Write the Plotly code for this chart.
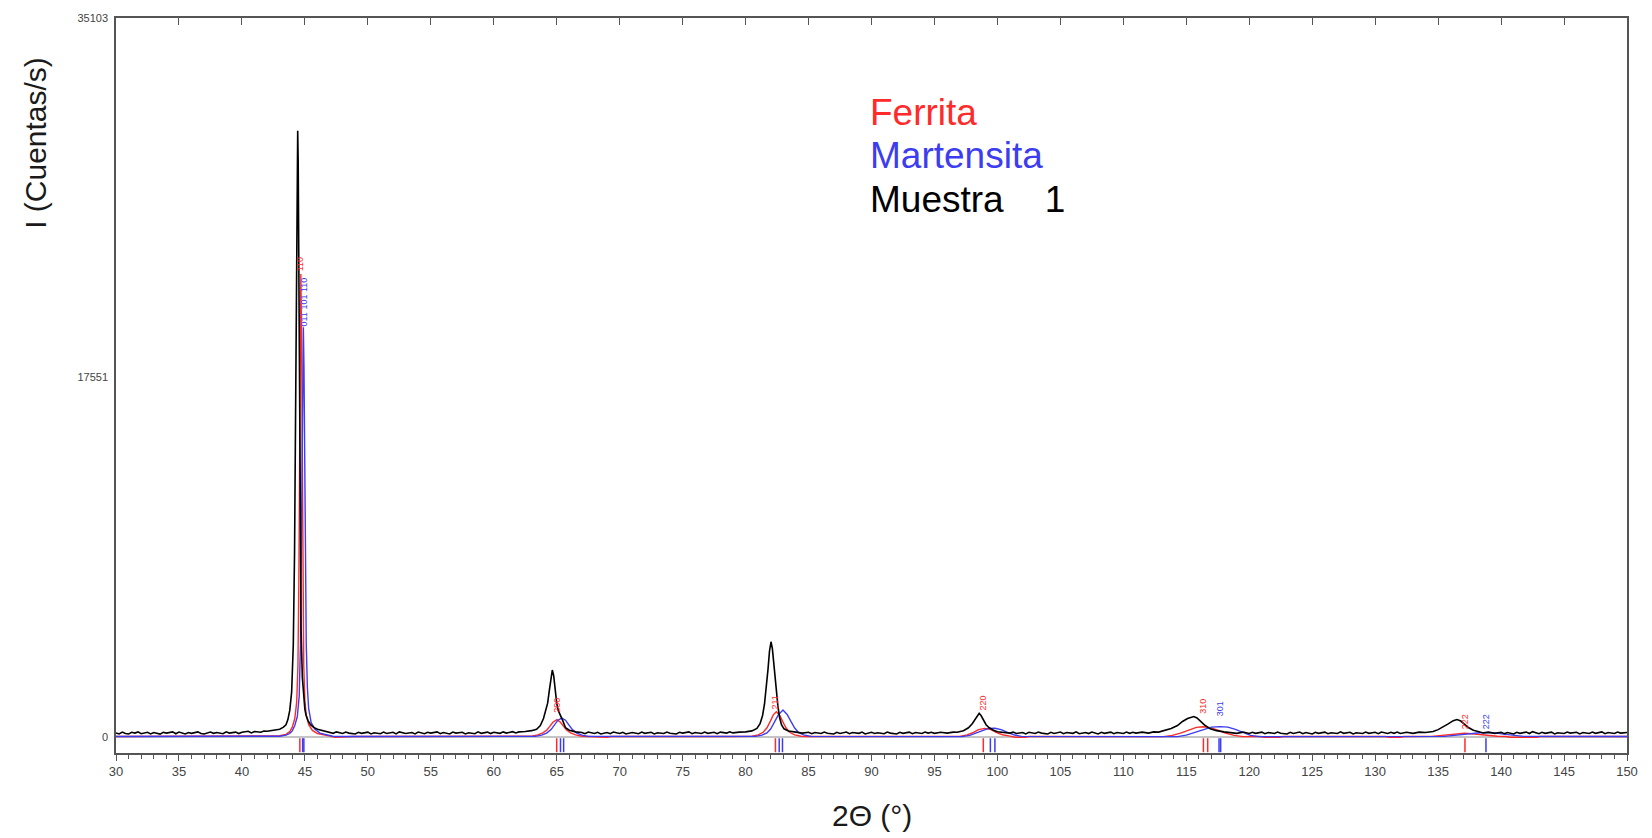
import plotly.graph_objects as go

# ---------------- DATA (2theta in degrees, intensity in counts/s) ----------------
muestra_fondo_1 = [(30.0, 200), (30.25, 150), (30.5, 240), (30.75, 170), (31.0, 150), (31.25, 230), (31.5, 190),
                   (31.75, 250), (32.0, 160), (32.5, 230), (32.75, 150), (33.0, 220), (33.5, 140), (33.75, 230),
                   (34.0, 190), (34.5, 250), (34.75, 160), (35.0, 240), (35.5, 150), (35.75, 220), (36.0, 180),
                   (36.5, 250), (36.75, 170), (37.0, 150), (37.5, 240), (37.75, 180), (38.0, 220), (38.5, 160),
                   (38.75, 250), (39.0, 190), (39.5, 240), (39.75, 170), (40.0, 230), (40.5, 280), (40.75, 200),
                   (41.0, 270), (41.5, 230), (41.75, 290)]
muestra_pico_110 = [(42.0, 280), (42.5, 330), (43.0, 380), (43.3, 480), (43.5, 600), (43.65, 850), (43.8, 1300),
                    (43.95, 2200), (44.08, 4500), (44.18, 9000), (44.26, 16000), (44.33, 24000), (44.39, 28800),
                    (44.43, 29600), (44.47, 28000), (44.52, 22000), (44.57, 15000), (44.63, 9000), (44.7, 5200),
                    (44.8, 2900), (44.9, 1900), (45.0, 1350), (45.1, 1050), (45.25, 800), (45.45, 600),
                    (45.7, 470), (46.0, 380), (46.5, 300), (47.0, 240)]
muestra_fondo_2 = [(47.25, 180), (47.5, 250), (48.0, 170), (48.25, 240), (48.5, 190), (49.0, 150), (49.25, 230),
                   (49.5, 180), (50.0, 240), (50.25, 150), (50.5, 210), (51.0, 160), (51.25, 240), (51.5, 170),
                   (52.0, 230), (52.25, 150), (52.5, 250), (53.0, 170), (53.5, 220), (53.75, 150), (54.0, 240),
                   (54.5, 160), (54.75, 230), (55.0, 190), (55.5, 250), (55.75, 160), (56.0, 220), (56.5, 150),
                   (56.75, 240), (57.0, 190), (57.5, 230), (57.75, 150), (58.0, 210), (58.5, 160), (58.75, 250),
                   (59.0, 180), (59.5, 240), (59.75, 170), (60.0, 230), (60.5, 180), (60.75, 250), (61.0, 190),
                   (61.5, 260), (61.75, 200)]
muestra_pico_200 = [(62.0, 250), (62.5, 270), (63.0, 310), (63.4, 380), (63.7, 560), (63.95, 900), (64.12, 1250),
                    (64.28, 1650), (64.42, 2300), (64.55, 2950), (64.65, 3270), (64.76, 3000), (64.88, 2300),
                    (65.0, 1650), (65.12, 1300), (65.3, 1000), (65.48, 800), (65.7, 450), (66.0, 330),
                    (66.5, 250), (67.0, 220)]
muestra_fondo_3 = [(67.25, 160), (67.5, 240), (68.0, 170), (68.25, 230), (68.5, 150), (69.0, 220), (69.25, 160),
                   (69.5, 240), (70.0, 170), (70.25, 230), (70.5, 150), (71.0, 220), (71.5, 160), (71.75, 240),
                   (72.0, 180), (72.5, 230), (72.75, 150), (73.0, 210), (73.5, 170), (73.75, 240), (74.0, 180),
                   (74.5, 150), (74.75, 230), (75.0, 190), (75.5, 250), (75.75, 160), (76.0, 220), (76.5, 170),
                   (76.75, 240), (77.0, 180), (77.5, 230), (77.75, 160), (78.0, 240), (78.5, 190), (78.75, 250)]
muestra_pico_211 = [(79.0, 200), (79.5, 240), (80.0, 250), (80.5, 300), (80.9, 420), (81.15, 650), (81.35, 1050),
                    (81.5, 1600), (81.64, 2330), (81.78, 3300), (81.9, 4200), (82.02, 4650), (82.13, 4300),
                    (82.25, 3500), (82.35, 2900), (82.44, 2330), (82.57, 1500), (82.7, 950), (82.85, 600),
                    (83.05, 400), (83.4, 290), (84.0, 240), (84.5, 190), (85.0, 230)]
muestra_fondo_4 = [(85.25, 160), (85.5, 220), (86.0, 170), (86.25, 240), (86.5, 180), (87.0, 150), (87.25, 230),
                   (87.5, 170), (88.0, 240), (88.25, 160), (88.5, 220), (89.0, 180), (89.25, 240), (89.5, 150),
                   (90.0, 230), (90.25, 170), (90.5, 210), (91.0, 160), (91.25, 240), (91.5, 190), (92.0, 150),
                   (92.25, 230), (92.5, 180), (93.0, 240), (93.25, 160), (93.5, 220), (94.0, 170), (94.25, 240),
                   (94.5, 190), (94.75, 230)]
muestra_pico_220 = [(95.0, 180), (95.5, 230), (96.0, 190), (96.5, 240), (96.8, 230), (97.3, 310), (97.7, 450),
                    (98.0, 650), (98.25, 900), (98.45, 1120), (98.55, 1160), (98.7, 1050), (98.9, 800),
                    (99.1, 600), (99.35, 450), (99.65, 340), (100.0, 260), (100.5, 230), (101.0, 190)]
muestra_fondo_5 = [(101.25, 240), (101.5, 170), (102.0, 220), (102.25, 150), (102.5, 230), (103.0, 170),
                   (103.25, 240), (103.5, 190), (104.0, 150), (104.25, 230), (104.5, 170), (105.0, 240),
                   (105.25, 160), (105.5, 220), (106.0, 180), (106.25, 250), (106.5, 160), (107.0, 220),
                   (107.25, 170), (107.5, 240), (108.0, 150), (108.25, 230), (108.5, 180), (109.0, 240),
                   (109.25, 160), (109.5, 220), (110.0, 170), (110.25, 240), (110.5, 180), (110.75, 230)]
muestra_pico_310 = [(111.0, 190), (111.5, 240), (112.0, 190), (112.4, 250), (112.8, 240), (113.3, 320),
                    (113.8, 420), (114.3, 560), (114.7, 760), (115.1, 900), (115.4, 970), (115.6, 1000),
                    (115.85, 930), (116.15, 760), (116.5, 560), (116.9, 400), (117.4, 310), (118.0, 250),
                    (118.5, 220), (119.0, 180), (119.5, 240), (120.0, 170)]
muestra_fondo_6 = [(120.25, 230), (120.5, 180), (121.0, 240), (121.25, 160), (121.5, 220), (122.0, 170),
                   (122.25, 240), (122.5, 180), (123.0, 150), (123.25, 230), (123.5, 170), (124.0, 240),
                   (124.25, 160), (124.5, 220), (125.0, 150), (125.25, 230), (125.5, 180), (126.0, 240),
                   (126.25, 160), (126.5, 210), (127.0, 170), (127.25, 250), (127.5, 180), (128.0, 230),
                   (128.25, 150), (128.5, 210), (129.0, 170), (129.25, 240), (129.5, 180), (130.0, 230),
                   (130.25, 160), (130.5, 240), (131.0, 170), (131.25, 230), (131.5, 180), (131.75, 240)]
muestra_pico_222 = [(132.0, 170), (132.5, 230), (133.0, 180), (133.5, 240), (134.0, 220), (134.6, 270),
                    (135.0, 360), (135.4, 480), (135.8, 640), (136.2, 800), (136.5, 850), (136.8, 780),
                    (137.1, 620), (137.4, 460), (137.8, 330), (138.2, 250), (138.6, 200), (139.0, 240),
                    (139.5, 180), (140.0, 230)]
muestra_fondo_7 = [(140.25, 160), (140.5, 220), (141.0, 150), (141.25, 230), (141.5, 180), (142.0, 240),
                   (142.25, 170), (142.5, 260), (143.0, 160), (143.25, 230), (143.5, 180), (144.0, 240),
                   (144.25, 150), (144.5, 210), (145.0, 170), (145.25, 240), (145.5, 190), (146.0, 230),
                   (146.25, 150), (146.5, 220), (147.0, 170), (147.25, 240), (147.5, 180), (148.0, 250),
                   (148.25, 160), (148.5, 220), (149.0, 170), (149.25, 240), (149.5, 190), (150.0, 220)]

# Calculated profile, Ferrita
ferrita_perfil = [(30.0, 25), (38.0, 25), (42.0, 30), (43.0, 60), (43.5, 130), (43.8, 260), (44.0, 480),
                  (44.2, 900), (44.35, 1700), (44.45, 3500), (44.52, 7500), (44.58, 14000), (44.63, 20000),
                  (44.68, 22600), (44.73, 20000), (44.78, 14000), (44.84, 7500), (44.91, 3500), (45.0, 1800),
                  (45.1, 1100), (45.3, 600), (45.6, 320), (46.0, 170), (46.5, 90), (47.0, 40), (47.4, -10),
                  (48.4, -10), (48.8, 25), (63.0, 40), (63.5, 100), (63.9, 200), (64.2, 330), (64.45, 520),
                  (64.7, 720), (65.02, 850), (65.3, 720), (65.55, 520), (65.8, 330), (66.1, 200), (66.5, 100),
                  (67.0, 40), (67.8, 25), (68.1, -10), (69.0, -10), (69.3, 25), (77.4, 25), (77.7, -10),
                  (78.6, -10), (78.9, 25), (80.5, 40), (81.0, 100), (81.4, 230), (81.7, 450), (81.95, 750),
                  (82.2, 1080), (82.44, 1235), (82.7, 1080), (82.95, 750), (83.2, 450), (83.5, 230),
                  (83.9, 100), (84.4, 40), (85.0, 25), (97.0, 30), (97.6, 100), (98.1, 230), (98.5, 360),
                  (99.0, 420), (99.5, 360), (99.9, 230), (100.4, 110), (101.0, 40), (101.4, -10), (102.2, -10),
                  (102.5, 25), (113.2, 20), (113.9, 80), (114.6, 200), (115.2, 350), (115.8, 470),
                  (116.35, 500), (116.9, 460), (117.5, 340), (118.1, 190), (118.8, 80), (119.5, 20),
                  (120.9, 25), (121.2, -10), (122.4, -10), (122.7, 25), (130.8, 25), (131.1, -10), (132.0, -10),
                  (132.3, 25), (134.5, 30), (135.5, 90), (136.3, 150), (137.1, 180), (137.9, 150), (138.7, 90),
                  (139.7, 40), (140.4, 25), (140.7, -10), (142.8, -10), (143.1, 25), (150.0, 25)]

# Calculated profile, Martensita
martensita_perfil = [(30.0, 25), (40.0, 25), (43.0, 40), (43.5, 90), (43.8, 170), (44.0, 300), (44.2, 560),
                     (44.4, 1000), (44.55, 2000), (44.65, 4500), (44.72, 8500), (44.78, 13500), (44.83, 18000),
                     (44.88, 20000), (44.93, 18000), (44.98, 13500), (45.04, 8500), (45.11, 4500), (45.2, 2400),
                     (45.3, 1400), (45.5, 700), (45.8, 380), (46.2, 190), (46.7, 100), (47.2, 40), (48.0, 25),
                     (63.3, 30), (63.8, 90), (64.2, 190), (64.55, 360), (64.85, 600), (65.1, 820), (65.4, 920),
                     (65.7, 820), (65.95, 600), (66.25, 360), (66.6, 190), (67.0, 90), (67.5, 30), (80.8, 30),
                     (81.3, 90), (81.7, 200), (82.0, 400), (82.3, 720), (82.6, 1080), (82.97, 1320),
                     (83.3, 1100), (83.6, 760), (83.9, 440), (84.2, 220), (84.6, 100), (85.2, 30), (97.2, 20),
                     (97.8, 80), (98.3, 190), (98.8, 330), (99.3, 420), (99.8, 430), (100.3, 360), (100.8, 230),
                     (101.3, 110), (101.9, 30), (114.3, 20), (115.0, 90), (115.7, 220), (116.4, 380),
                     (117.0, 480), (117.7, 505), (118.3, 480), (118.9, 370), (119.5, 210), (120.1, 80),
                     (120.8, 20), (135.5, 30), (136.5, 90), (137.5, 170), (138.3, 210), (138.9, 215),
                     (139.5, 200), (140.2, 140), (141.0, 70), (141.8, 30), (150.0, 25)]

# Reflection positions (Bragg ticks) and hkl labels
ferrita_reflexiones = [44.6, 65.0, 82.37, 98.88, 116.36, 116.7, 137.13]
martensita_reflexiones = [44.82, 44.92, 65.3, 65.55, 82.67, 82.93, 99.44, 99.8, 117.6, 117.73, 138.8]

ferrita_hkl = ["110", "200", "211", "220", "310", "222"]
ferrita_hkl_x = [44.63, 65.0, 82.35, 98.88, 116.36, 137.13]
ferrita_hkl_y = [22700, 1150, 1300, 1230, 1080, 350]
martensita_hkl = ["011 101 110", "301", "222"]
martensita_hkl_x = [44.9, 117.75, 138.8]
martensita_hkl_y = [20000, 980, 350]

# Axis settings
x_rango = [30, 150]
y_rango = [-781, 35103]
y_marcas = [0, 17551, 35103]

leyenda_textos = ["Ferrita", "Martensita", "Muestra\u00a0\u00a0\u00a0\u00a01"]
ROJO = "#ff2a2a"
AZUL = "#3c3cf0"

# ---------------- FIGURE ----------------
def xs(pts):
    return [p[0] for p in pts]


def ys(pts):
    return [p[1] for p in pts]


muestra = (muestra_fondo_1 + muestra_pico_110 + muestra_fondo_2 + muestra_pico_200 + muestra_fondo_3
           + muestra_pico_211 + muestra_fondo_4 + muestra_pico_220 + muestra_fondo_5 + muestra_pico_310
           + muestra_fondo_6 + muestra_pico_222 + muestra_fondo_7)

fig = go.Figure()

fig.add_shape(type="line", xref="x", yref="y", x0=x_rango[0], x1=x_rango[1], y0=0, y1=0,
              line=dict(color="#c4c4c4", width=2), layer="below")

fig.add_trace(go.Scatter(x=xs(ferrita_perfil), y=ys(ferrita_perfil), mode="lines",
                         line=dict(color=ROJO, width=1.4), showlegend=False, hoverinfo="skip"))
fig.add_trace(go.Scatter(x=xs(martensita_perfil), y=ys(martensita_perfil), mode="lines",
                         line=dict(color=AZUL, width=1.4), showlegend=False, hoverinfo="skip"))
fig.add_trace(go.Scatter(x=xs(muestra), y=ys(muestra), mode="lines",
                         line=dict(color="#000000", width=1.6), showlegend=False, hoverinfo="skip"))

tick_y = -400
fig.add_trace(go.Scatter(x=ferrita_reflexiones, y=[tick_y] * len(ferrita_reflexiones), mode="markers",
                         marker=dict(symbol="line-ns", size=10, line=dict(color=ROJO, width=1.5)),
                         showlegend=False, hoverinfo="skip"))
fig.add_trace(go.Scatter(x=martensita_reflexiones, y=[tick_y] * len(martensita_reflexiones), mode="markers",
                         marker=dict(symbol="line-ns", size=10, line=dict(color=AZUL, width=1.5)),
                         showlegend=False, hoverinfo="skip"))

# dummy trace on the top axis so that it is drawn
fig.add_trace(go.Scatter(x=x_rango, y=[None, None], xaxis="x2", yaxis="y", showlegend=False,
                         hoverinfo="skip"))

for t, x, y in zip(ferrita_hkl, ferrita_hkl_x, ferrita_hkl_y):
    fig.add_annotation(x=x, y=y, xref="x", yref="y", text=t, showarrow=False, textangle=-90,
                       xanchor="center", yanchor="bottom", borderpad=0,
                       font=dict(family="Liberation Sans, Arial", size=9, color=ROJO))
for t, x, y in zip(martensita_hkl, martensita_hkl_x, martensita_hkl_y):
    fig.add_annotation(x=x, y=y, xref="x", yref="y", text=t, showarrow=False, textangle=-90,
                       xanchor="center", yanchor="bottom", borderpad=0,
                       font=dict(family="Liberation Sans, Arial", size=9, color=AZUL))

# legend as coloured text
leyenda_colores = [ROJO, AZUL, "#000000"]
leyenda_y = [0.872, 0.8136, 0.7537]
for t, c, y in zip(leyenda_textos, leyenda_colores, leyenda_y):
    fig.add_annotation(x=0.4975, y=y, xref="paper", yref="paper", text=t, showarrow=False,
                       xanchor="left", yanchor="middle",
                       font=dict(family="Liberation Sans, Arial", size=37, color=c))

# axis titles
fig.add_annotation(x=-0.053, y=0.83, xref="paper", yref="paper", text="I (Cuentas/s)", showarrow=False,
                   textangle=-90, xanchor="center", yanchor="middle",
                   font=dict(family="Liberation Sans, Arial", size=30, color="#1a1a1a"))
fig.add_annotation(x=0.5, y=-0.0844, xref="paper", yref="paper", text="2Θ (°)", showarrow=False,
                   xanchor="center", yanchor="middle",
                   font=dict(family="Liberation Sans, Arial", size=30, color="#1a1a1a"))

fig.update_layout(
    width=1652, height=838, autosize=False,
    margin=dict(l=116, r=25, t=18, b=85),
    paper_bgcolor="white", plot_bgcolor="white",
    font=dict(family="Liberation Sans, Arial", color="#444444"),
    xaxis=dict(range=x_rango, tickmode="linear", tick0=30, dtick=5, ticks="outside", ticklen=6,
               tickwidth=1, tickcolor="#555555", showgrid=False, zeroline=False,
               showline=True, linecolor="#555555", linewidth=1.5, mirror=True,
               tickfont=dict(size=13, color="#444444"),
               minor=dict(dtick=1, ticks="outside", ticklen=4, tickcolor="#555555", tickwidth=1,
                          showgrid=False)),
    xaxis2=dict(range=x_rango, overlaying="x", side="top", tickmode="linear", tick0=30, dtick=5,
                ticks="inside", ticklen=7, tickwidth=1, tickcolor="#555555", showticklabels=False,
                showgrid=False, zeroline=False, showline=False),
    yaxis=dict(range=y_rango, tickmode="array", tickvals=y_marcas, ticktext=[str(v) for v in y_marcas],
               ticks="", showgrid=False, zeroline=False, showline=True, linecolor="#555555",
               linewidth=1.5, mirror=True, tickfont=dict(size=11, color="#444444"), ticklabelstandoff=4),
)

fig.write_html("out.html", config={"displayModeBar": False},
               post_script="document.body.style.margin='0';")
